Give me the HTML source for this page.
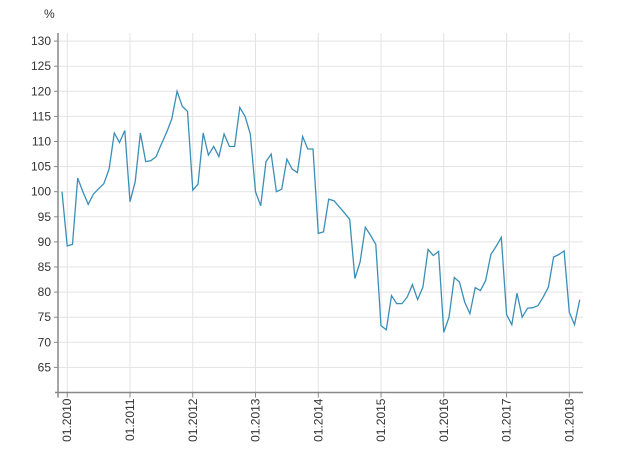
<!DOCTYPE html>
<html><head><meta charset="utf-8"><style>
body{margin:0;background:#fff;}
svg text{font-family:"Liberation Sans",Arial,sans-serif;font-size:12px;fill:#333;}
</style></head><body>
<svg width="620" height="462" viewBox="0 0 620 462" xmlns="http://www.w3.org/2000/svg">
<g id="grid"></g>
<g id="axes"></g>
<path id="line" fill="none" stroke="#3a8fb7" stroke-width="1.3"/>
<text x="44" y="18">%</text>
</svg>
<script>
const yTicks=[65,70,75,80,85,90,95,100,105,110,115,120,125,130];
const xLabels=["01.2010","01.2011","01.2012","01.2013","01.2014","01.2015","01.2016","01.2017","01.2018"];
const values=[100,89.2,89.5,102.7,100,97.5,99.5,100.6,101.6,104.5,111.7,109.8,112.2,98,102,111.7,106,106.2,107,109.5,111.8,114.5,120,117,116,100.3,101.5,111.7,107.3,109,107,111.5,109,109,116.8,115,111.5,100,97.2,106,107.5,100,100.5,106.5,104.5,103.8,111,108.5,108.5,91.7,92,98.5,98.2,97,95.8,94.5,82.7,86,92.9,91.3,89.5,73.3,72.5,79.3,77.7,77.7,79,81.5,78.5,81,88.5,87.3,88.1,72,75,82.9,82,78,75.7,80.9,80.3,82.3,87.5,89.1,90.9,75.5,73.5,79.8,75,76.8,76.9,77.3,79,81,87,87.5,88.2,76,73.5,78.5];
const NS="http://www.w3.org/2000/svg";
const X0=58,X1=583,Ybot=392.5;
function y(v){return Ybot-(v-60)*5.02;}
function xm(i){return 62+5.23*i;}           // i = month index from 12.2009
function xy(k){return xm(1+12*k);}           // year label position
const grid=document.getElementById('grid'),axes=document.getElementById('axes');
function mk(tag,attrs,parent){const e=document.createElementNS(NS,tag);for(const k in attrs)e.setAttribute(k,attrs[k]);parent.appendChild(e);return e;}
yTicks.forEach(v=>{
  const l=mk('line',{x1:X0,x2:X1,y1:y(v),y2:y(v),stroke:'#e3e3e3','stroke-width':1},grid);
  
  
  const t=mk('line',{x1:X0-4,x2:X0,y1:y(v),y2:y(v),stroke:'#888'},axes);
  
  
  const tx=mk('text',{x:X0-7,y:y(v)+4,'text-anchor':'end'},axes);
  tx.textContent=v;
  
  
});
xLabels.forEach((s,k)=>{
  const x=xy(k);
  const l=mk('line',{x1:x,x2:x,y1:33,y2:Ybot,stroke:'#e3e3e3'},grid);
  
  
  const t=mk('line',{x1:x,x2:x,y1:Ybot,y2:Ybot+5,stroke:'#888'},axes);
  
  
  const tx=mk('text',{x:0,y:0,'text-anchor':'end',transform:`translate(${x+4},${Ybot+6}) rotate(-90)`},axes);
  tx.textContent=s;
  
  
});
const ya=mk('line',{x1:X0,x2:X0,y1:33,y2:Ybot+5,stroke:'#888','stroke-width':1.5},axes);


const xa=mk('line',{x1:X0-3,x2:X1,y1:Ybot,y2:Ybot,stroke:'#888','stroke-width':1.5},axes);


document.getElementById('line').setAttribute('d',values.map((v,i)=>(i?'L':'M')+xm(i).toFixed(1)+','+y(v).toFixed(1)).join(''));
</script>
</body></html>
